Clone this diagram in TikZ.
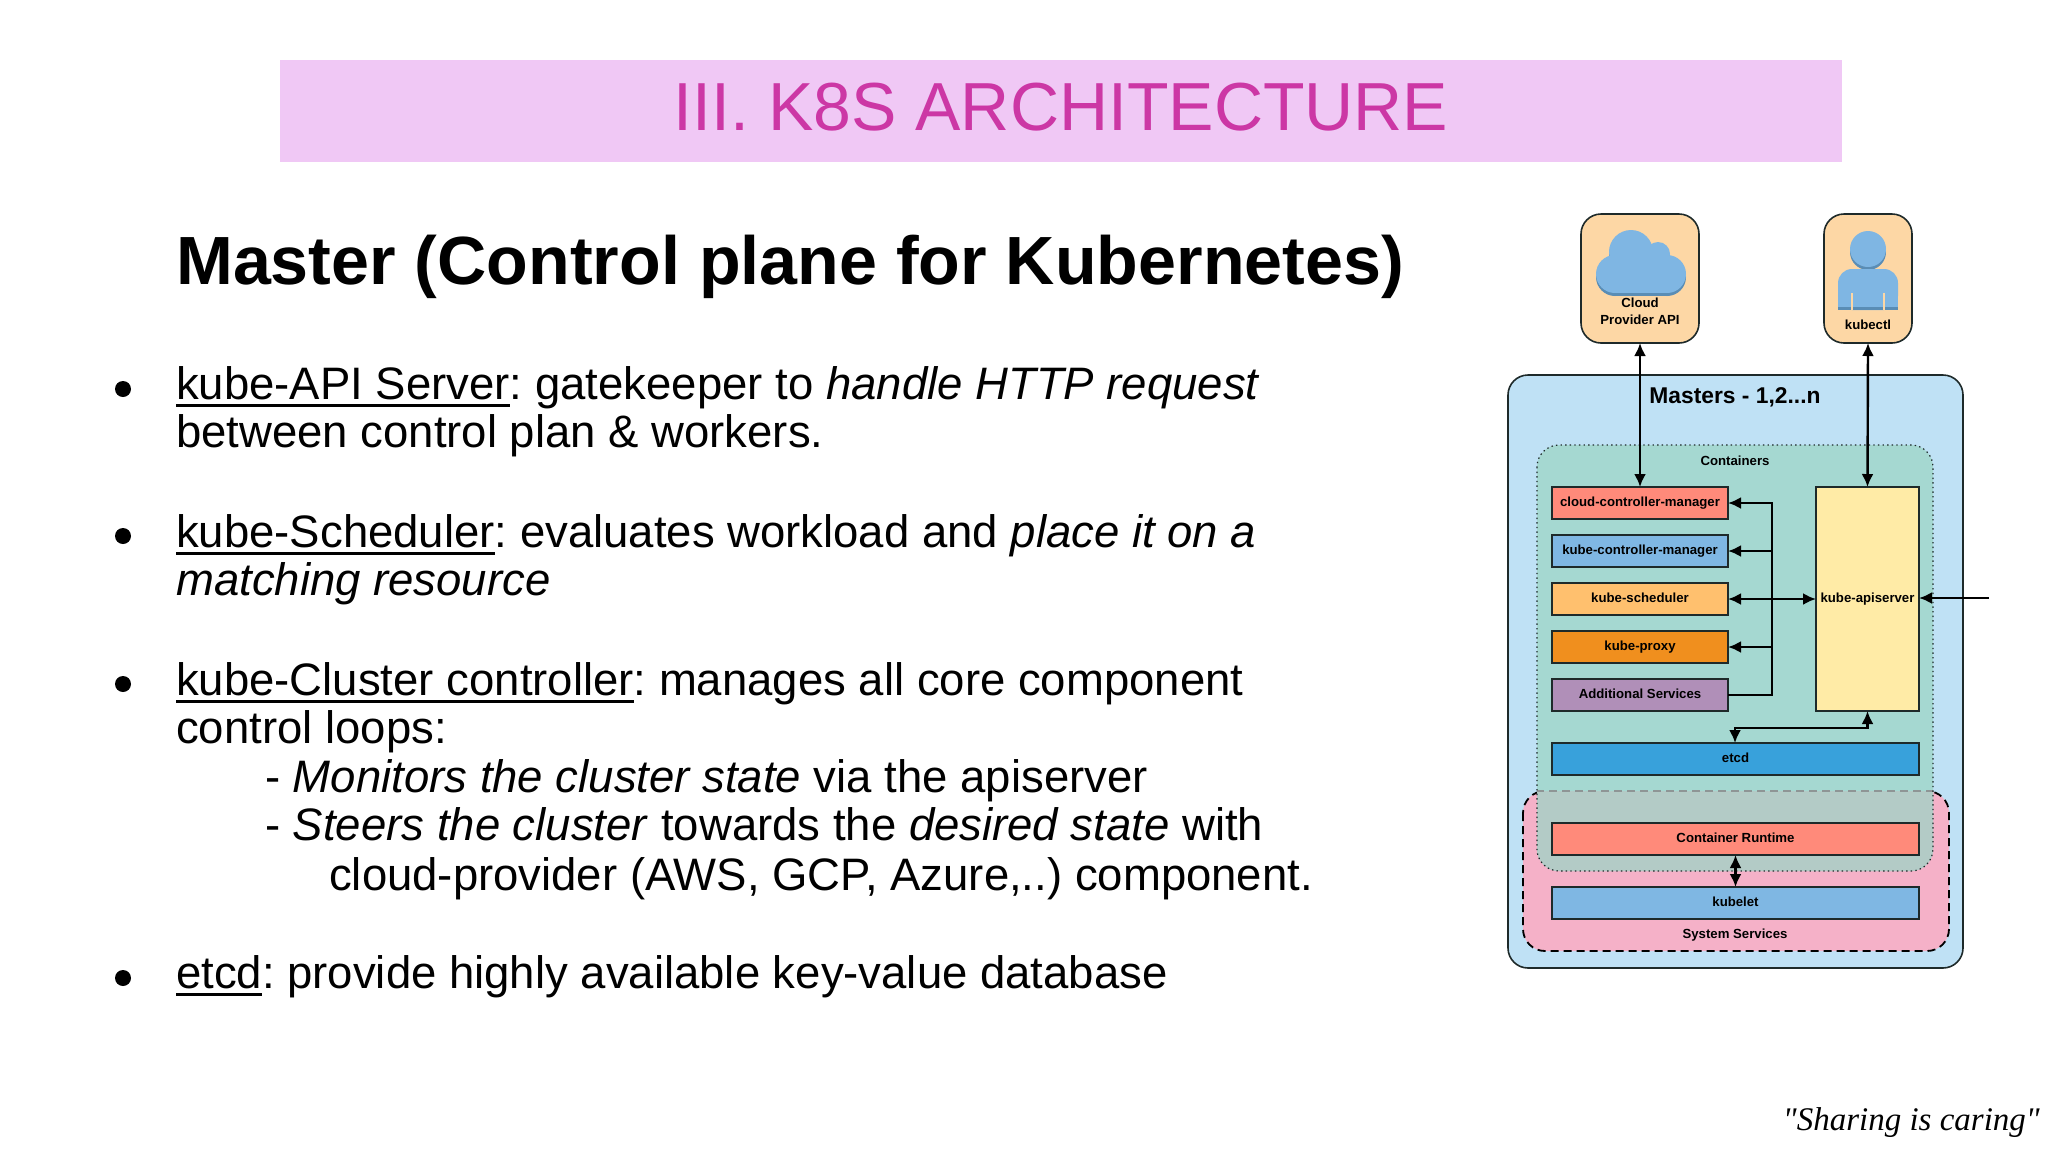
\documentclass[tikz,border=0pt]{standalone}
\usepackage{fontspec}
\setmainfont{Liberation Sans}
\newfontfamily\tagfont{Liberation Serif}
\usetikzlibrary{arrows.meta}
\definecolor{titleband}{HTML}{F0C8F5}
\definecolor{titleink}{HTML}{CC37A5}
\definecolor{masterblue}{HTML}{BFE1F5}
\definecolor{contteal}{HTML}{A5D8D1}
\definecolor{syspink}{HTML}{F5B1C8}
\definecolor{overlapgrey}{HTML}{B3CBC6}
\definecolor{actorfill}{HTML}{FDD7A5}
\definecolor{iconblue}{HTML}{7FB6E3}
\definecolor{icondark}{HTML}{5A8DB5}
\definecolor{boxred}{HTML}{FF8A7A}
\definecolor{boxblue}{HTML}{7FB7E3}
\definecolor{boxorange}{HTML}{FFC06E}
\definecolor{boxamber}{HTML}{F08F1E}
\definecolor{boxpurple}{HTML}{B08FB8}
\definecolor{boxyellow}{HTML}{FFEBA6}
\definecolor{boxetcd}{HTML}{38A1DB}
\definecolor{edgeink}{HTML}{1E2A2A}
\newcommand{\ulined}[1]{\setbox0=\hbox{#1}\rlap{\rule[-7.5pt]{\wd0}{3pt}}\box0}
\tikzset{
  bodyline/.style={anchor=base west,inner sep=0pt,font=\fontsize{45.5}{48}\selectfont\frenchspacing},
  compbox/.style={draw=edgeink,line width=1.6pt,outer sep=0pt,inner sep=0pt,minimum height=32pt,text height=9.5pt,text depth=3.5pt,font=\fontsize{13.2}{15}\selectfont\bfseries},
  actorbox/.style={draw=edgeink,line width=1.6pt,fill=actorfill,rounded corners=20pt,outer sep=0pt},
  smalllabel/.style={inner sep=0pt,font=\fontsize{13.2}{17}\selectfont\bfseries,align=center},
  link/.style={line width=2.4pt,{Latex[length=13pt,width=12pt]}-{Latex[length=13pt,width=12pt]}},
  tolink/.style={line width=2.4pt,-{Latex[length=13pt,width=12pt]}},
  dottedline/.style={draw=edgeink,line width=1.2pt,dash pattern=on 1.4pt off 3.2pt},
  bulletdot/.style={circle,fill=black,inner sep=0pt,minimum size=16pt}
}
\begin{document}
\begin{tikzpicture}[x=1pt,y=-1pt]
\useasboundingbox (0,0) rectangle (2048,1152);
% title and heading
\node[fill=titleband,minimum width=1562pt,minimum height=102pt,inner sep=0pt] (titleband) at (1061,111) {};
\node[text=titleink,inner sep=0pt,font=\fontsize{68}{72}\selectfont] (title) at (1061,107) {III. K8S ARCHITECTURE};
\node[anchor=base west,inner sep=0pt,font=\fontsize{68.2}{72}\selectfont\bfseries] (heading) at (176,284) {Master (Control plane for Kubernetes)};
% bullet text
\node[bulletdot] (dot1) at (123,389) {};
\node[bulletdot] (dot2) at (123,536) {};
\node[bulletdot] (dot3) at (123,684) {};
\node[bulletdot] (dot4) at (123,978) {};
\node[bodyline] (api1) at (176,399) {\ulined{kube-API Server}: gatekeeper to \textit{handle HTTP request}};
\node[bodyline] (api2) at (176,447) {between control plan \& workers.};
\node[bodyline] (sch1) at (176,547) {\ulined{kube-Scheduler}: evaluates workload and \textit{place it on a}};
\node[bodyline] (sch2) at (176,595) {\textit{matching resource}};
\node[bodyline] (clu1) at (176,695) {\ulined{kube-Cluster controller}: manages all core component};
\node[bodyline] (clu2) at (176,743) {control loops:};
\node[bodyline] (clu3) at (265,792) {- \textit{Monitors the cluster state} via the apiserver};
\node[bodyline] (clu4) at (265,840) {- \textit{Steers the cluster} towards the \textit{desired state} with};
\node[bodyline] (clu5) at (329,890) {cloud-provider (AWS, GCP, Azure,..) component.};
\node[bodyline] (etc1) at (176,988) {\ulined{etcd}: provide highly available key-value database};
% outer frames
\draw[draw=edgeink,line width=1.6pt,fill=masterblue,rounded corners=20pt] (1508,375) rectangle (1963,968);
\draw[draw=black,line width=1.8pt,dash pattern=on 8pt off 5pt,fill=syspink,rounded corners=22pt] (1523,791) rectangle (1949,951);
\fill[contteal,rounded corners=22pt] (1537,445) rectangle (1933,871);
\begin{scope}
\clip[rounded corners=22pt] (1537,445) rectangle (1933,871);
\fill[overlapgrey] (1523,791) rectangle (1949,951);
\draw[draw=edgeink!50,line width=1.4pt,dash pattern=on 8pt off 5pt] (1523,791) -- (1949,791);
\end{scope}
\draw[dottedline,rounded corners=22pt] (1537,445) rectangle (1933,871);
\node[inner sep=0pt,font=\fontsize{22.8}{24}\selectfont\bfseries] (masters) at (1735,397) {Masters - 1,2...n};
\node[smalllabel] (containers) at (1735,461) {Containers};
\node[smalllabel] (system) at (1735,935) {System Services};
% actors
\node[actorbox,minimum width=118pt,minimum height=129pt] (cloudapi) at (1640,278.5) {};
\node[actorbox,minimum width=88pt,minimum height=129pt] (kubectl) at (1868,278.5) {};
\foreach \shift/\tone in {3/icondark,0/iconblue} {
  \fill[\tone] (1631,252+\shift) circle (22);
  \fill[\tone] (1658,254+\shift) circle (12);
  \fill[\tone] (1615,274+\shift) circle (19);
  \fill[\tone] (1667,274+\shift) circle (19);
  \fill[\tone] (1615,262+\shift) rectangle (1667,293+\shift);
}
\fill[icondark] (1868,252) circle (18);
\fill[iconblue] (1868,249) circle (18);
\fill[iconblue,rounded corners=14pt] (1838,310) -- (1838,269) -- (1898,269) -- (1898,310) -- cycle;
\fill[iconblue] (1838,295) rectangle (1898,307);
\fill[icondark] (1838,307) rectangle (1898,310);
\fill[actorfill] (1851,293) rectangle (1853,310);
\fill[actorfill] (1883,293) rectangle (1885,310);
\node[smalllabel] (cloudlabel) at (1640,311) {Cloud\\Provider API};
\node[smalllabel] (kubectllabel) at (1868,325) {kubectl};
% components
\matrix (stack) [anchor=north west,inner sep=0pt,outer sep=0pt,column sep=0pt,row sep=14.4pt] at (1551.2,486.2)
{
  \node[compbox,fill=boxred,minimum width=176pt] (ccm) {cloud-controller-manager}; \\
  \node[compbox,fill=boxblue,minimum width=176pt] (kcm) {kube-controller-manager}; \\
  \node[compbox,fill=boxorange,minimum width=176pt] (sched) {kube-scheduler}; \\
  \node[compbox,fill=boxamber,minimum width=176pt] (proxy) {kube-proxy}; \\
  \node[compbox,fill=boxpurple,minimum width=176pt] (addons) {Additional Services}; \\
};
\node[compbox,fill=boxyellow,minimum width=103pt,minimum height=224pt] (apiserver) at (1867.5,599) {kube-apiserver};
\node[compbox,fill=boxetcd,minimum width=367pt] (etcd) at (1735.5,759) {etcd};
\node[compbox,fill=boxred,minimum width=367pt] (runtime) at (1735.5,839) {Container Runtime};
\node[compbox,fill=boxblue,minimum width=367pt] (kubelet) at (1735.5,903) {kubelet};
% connectors
\coordinate (bus) at (1772,600);
\coordinate (outside) at (1989,598);
\coordinate (etcdbend) at (1735,728);
\draw[link] (cloudapi.south) -- (cloudapi.south |- ccm.north);
\draw[link] (kubectl.south) -- (apiserver.north);
\draw[tolink] (addons.east) -- (addons.east -| bus) -- (ccm.east -| bus) -- (ccm.east);
\draw[tolink] (kcm.east -| bus) -- (kcm.east);
\draw[tolink] (proxy.east -| bus) -- (proxy.east);
\draw[link] (sched.east) -- (sched.east -| apiserver.west);
\draw[tolink] (outside) -- (outside -| apiserver.east);
\draw[link] (etcdbend |- etcd.north) -- (etcdbend) -- (etcdbend -| apiserver.south) -- (apiserver.south);
\draw[link] (runtime.south) -- (kubelet.north);
% tagline
\node[anchor=base east,inner sep=0pt,font=\fontsize{33}{36}\selectfont\tagfont\itshape] (tagline) at (2040,1130) {"Sharing is caring"};
\end{tikzpicture}
\end{document}
